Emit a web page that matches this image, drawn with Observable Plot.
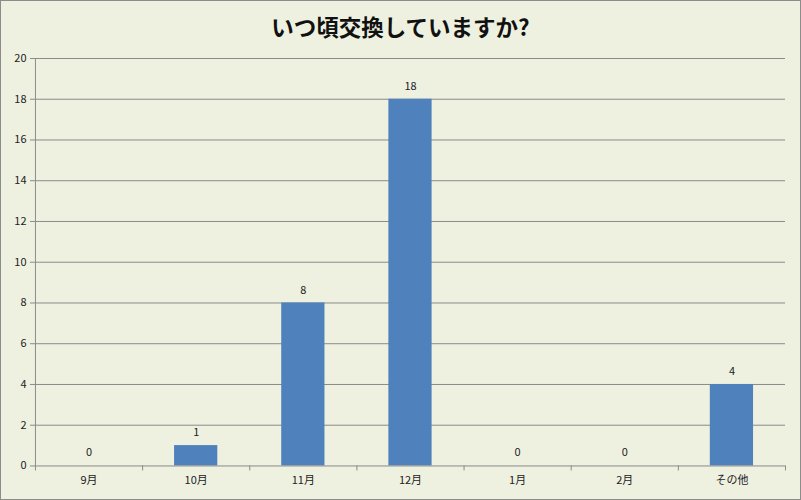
<!DOCTYPE html>
<html><head><meta charset="utf-8">
<script src="https://cdn.jsdelivr.net/npm/d3@7"></script>
<script src="https://cdn.jsdelivr.net/npm/@observablehq/plot@0.6"></script>
<style>
html,body{margin:0;padding:0;background:#fff;}
#wrap{position:relative;width:801px;height:500px;box-sizing:border-box;border:1px solid #8c8c8c;background:#EEF1E0;overflow:hidden;}
#title{position:absolute;left:0;top:10px;width:100%;text-align:center;font-family:"Noto Sans CJK JP",sans-serif;font-weight:bold;font-size:22.5px;line-height:30px;color:#111;}
#chart{position:absolute;left:-1px;top:48px;}
</style></head>
<body>
<div id="wrap"><div id="title">いつ頃交換していますか?</div><div id="chart"></div></div>
<script>
const categories = ["9月","10月","11月","12月","1月","2月","その他"];
const values = [0,1,8,18,0,0,4];
const yTicks = [0,2,4,6,8,10,12,14,16,18,20];

const data = categories.map((c,i)=>({cat:c, i, v:values[i]}));
const bounds = d3.range(categories.length+1);
const font = '"Noto Sans CJK JP", "Noto Sans", sans-serif';

const plot = Plot.plot({
  width: 801, height: 452,
  marginLeft: 35, marginRight: 15, marginTop: 9, marginBottom: 35,
  style: {background: "transparent", fontFamily: font, fontSize: "11px", color: "#222"},
  x: {type: "linear", domain: [0, categories.length]},
  y: {domain: [0, 20]},
  marks: [
    Plot.ruleY(yTicks.filter(d=>d>0), {stroke: "#8a8a8a", strokeWidth: 1, strokeOpacity: 1}),
    Plot.rectY(data, {x1: "i", x2: d=>d.i+1, y: "v", fill: "#4F81BD", insetLeft: 32, insetRight: 32}),
    Plot.text(data, {x: d=>d.i+0.5, y: "v", text: d=>String(d.v), dy: -13, fill: "#222", fontSize: 11}),
    Plot.ruleY([0], {stroke: "#8a8a8a"}),
    Plot.ruleX([0], {stroke: "#8a8a8a"}),
    Plot.axisY({ticks: yTicks, tickSize: 5, tickPadding: 4, label: null, stroke: "#8a8a8a", fill: "#222"}),
    Plot.axisX({ticks: bounds, tickSize: 5, tickFormat: () => "", label: null, stroke: "#8a8a8a"}),
    Plot.axisX({ticks: data.map(d=>d.i+0.5), tickSize: 0, tickPadding: 10, tickFormat: t => categories[Math.floor(t)], label: null, fill: "#222"})
  ]
});
document.getElementById("chart").appendChild(plot);
</script>
</body></html>
